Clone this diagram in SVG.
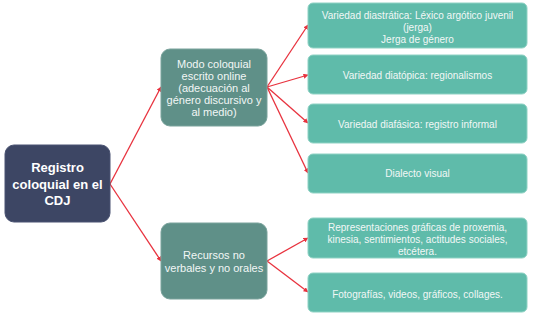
<svg xmlns="http://www.w3.org/2000/svg" width="536" height="317" viewBox="0 0 536 317">
<defs>
<marker id="ah" viewBox="0 0 10 10" refX="9" refY="5" markerWidth="5" markerHeight="5" orient="auto" markerUnits="userSpaceOnUse">
<path d="M0,0 L10,5 L0,10 z" fill="#e8323e"/>
</marker>
<style>
.root{fill:#3d4664;stroke:#4a5372;stroke-width:1}
.mid{fill:#5f9088;stroke:#7aa39c;stroke-width:1}
.leaf{fill:#5fbbaa;stroke:#8fd2c4;stroke-width:1}
.t{font-family:"Liberation Sans",Arial,sans-serif;text-anchor:middle;fill:#f2f7f6}
.tr{font-size:13px;font-weight:bold;fill:#ffffff}
.tm{font-size:11px}
.tl{font-size:10px}
.c{stroke:#e8323e;stroke-width:1.3;fill:none;marker-end:url(#ah)}
</style>
</defs>
<rect width="536" height="317" fill="#ffffff"/>
<g id="connectors">
<line class="c" x1="110" y1="184" x2="161" y2="87"/>
<line class="c" x1="110" y1="184" x2="161" y2="261"/>
<line class="c" x1="267" y1="87" x2="308" y2="25"/>
<line class="c" x1="267" y1="87" x2="308" y2="75"/>
<line class="c" x1="267" y1="87" x2="308" y2="123"/>
<line class="c" x1="267" y1="87" x2="308" y2="173"/>
<line class="c" x1="267" y1="261" x2="308" y2="238"/>
<line class="c" x1="267" y1="261" x2="308" y2="292"/>
</g>
<g id="root">
<rect class="root" x="5" y="145" width="105" height="77" rx="9"/>
<text class="t tr" x="57.5" y="172">Registro</text>
<text class="t tr" x="57.5" y="189">coloquial en el</text>
<text class="t tr" x="57.5" y="205">CDJ</text>
</g>
<g id="mid1">
<rect class="mid" x="161" y="49" width="106" height="77" rx="9"/>
<text class="t tm" x="214" y="68">Modo coloquial</text>
<text class="t tm" x="214" y="80">escrito online</text>
<text class="t tm" x="214" y="92">(adecuación al</text>
<text class="t tm" x="214" y="104">género discursivo y</text>
<text class="t tm" x="214" y="116">al medio)</text>
</g>
<g id="mid2">
<rect class="mid" x="161" y="223" width="106" height="76" rx="9"/>
<text class="t tm" x="214" y="259">Recursos no</text>
<text class="t tm" x="214" y="272">verbales y no orales</text>
</g>
<g id="leaf1">
<rect class="leaf" x="308" y="3" width="219" height="45" rx="5"/>
<text class="t tl" x="417.5" y="18.5">Variedad diastrática: Léxico argótico juvenil</text>
<text class="t tl" x="417.5" y="30.5">(jerga)</text>
<text class="t tl" x="417.5" y="42.5">Jerga de género</text>
</g>
<g id="leaf2">
<rect class="leaf" x="308" y="55" width="219" height="39" rx="5"/>
<text class="t tl" x="417.5" y="78.5">Variedad diatópica: regionalismos</text>
</g>
<g id="leaf3">
<rect class="leaf" x="308" y="104" width="219" height="39" rx="5"/>
<text class="t tl" x="417.5" y="127.5">Variedad diafásica: registro informal</text>
</g>
<g id="leaf4">
<rect class="leaf" x="308" y="154" width="219" height="39" rx="5"/>
<text class="t tl" x="417.5" y="177">Dialecto visual</text>
</g>
<g id="leaf5">
<rect class="leaf" x="308" y="218" width="219" height="40" rx="5"/>
<text class="t tl" x="417.5" y="230.5">Representaciones gráficas de proxemia,</text>
<text class="t tl" x="417.5" y="242.5">kinesia, sentimientos, actitudes sociales,</text>
<text class="t tl" x="417.5" y="254.5">etcétera.</text>
</g>
<g id="leaf6">
<rect class="leaf" x="308" y="273" width="219" height="39" rx="5"/>
<text class="t tl" x="417.5" y="297.5">Fotografías, videos, gráficos, collages.</text>
</g>
</svg>
